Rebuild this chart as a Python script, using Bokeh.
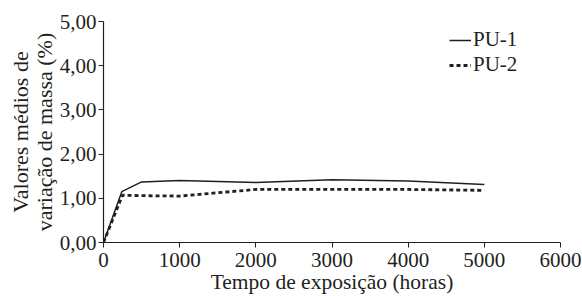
from bokeh.plotting import figure
from bokeh.models import Range1d, FixedTicker, CustomJSTickFormatter, Legend, LegendItem
from bokeh.embed import file_html
from bokeh.resources import INLINE

hours_pu1 = [0, 240, 500, 1000, 2000, 3000, 4000, 5000]
mass_pu1 = [0.0, 1.15, 1.37, 1.40, 1.36, 1.42, 1.39, 1.31]
hours_pu2 = [0, 250, 500, 1000, 2000, 3000, 4000, 5000]
mass_pu2 = [0.0, 1.07, 1.06, 1.05, 1.20, 1.20, 1.20, 1.18]
x_ticks = [0, 1000, 2000, 3000, 4000, 5000, 6000]
y_ticks = [0, 1, 2, 3, 4, 5]
series_names = ["PU-1", "PU-2"]
x_title = "Tempo de exposição (horas)"
y_title = "Valores médios de\nvariação de massa (%)"

FONT = "Liberation Serif"
INK = "#231f20"

p = figure(width=582, height=296, output_backend="svg", toolbar_location=None,
           x_range=Range1d(0, 6000), y_range=Range1d(0, 5),
           min_border_left=103, min_border_right=22, min_border_top=21, min_border_bottom=53)
p.outline_line_color = None
p.xgrid.visible = False
p.ygrid.visible = False

r1 = p.line(hours_pu1, mass_pu1, line_color=INK, line_width=1.5)
r2 = p.line(hours_pu2, mass_pu2, line_color=INK, line_width=2.8, line_dash="4 3")

for ax in (p.xaxis[0], p.yaxis[0]):
    ax.axis_line_color = INK
    ax.axis_line_width = 1.2
    ax.major_tick_line_color = INK
    ax.major_tick_out = 5
    ax.major_tick_in = 0
    ax.minor_tick_line_color = None
    ax.major_label_text_font = FONT
    ax.major_label_text_font_size = "21px"
    ax.major_label_text_color = INK
    ax.axis_label_text_font = FONT
    ax.axis_label_text_font_style = "normal"
    ax.axis_label_text_color = INK

p.xaxis[0].ticker = FixedTicker(ticks=x_ticks)
p.yaxis[0].ticker = FixedTicker(ticks=y_ticks)
p.yaxis[0].formatter = CustomJSTickFormatter(code="return tick.toFixed(2).replace('.', ',');")
p.xaxis[0].axis_label = x_title
p.xaxis[0].axis_label_text_font_size = "21.5px"
p.xaxis[0].axis_label_standoff = 0
p.xaxis[0].major_label_standoff = 5
p.yaxis[0].axis_label = y_title
p.yaxis[0].axis_label_text_font_size = "22px"
p.yaxis[0].axis_label_text_line_height = 0.95
p.yaxis[0].axis_label_standoff = 0
p.yaxis[0].major_label_standoff = 2

legend = Legend(items=[LegendItem(label=series_names[0], renderers=[r1]),
                       LegendItem(label=series_names[1], renderers=[r2])])
legend.background_fill_alpha = 0
legend.border_line_color = None
legend.label_text_font = FONT
legend.label_text_font_size = "21px"
legend.label_text_color = INK
legend.glyph_width = 22
legend.label_standoff = 2
legend.spacing = 0
legend.label_height = 20
legend.glyph_height = 20
legend.padding = 0
legend.margin = 0
legend.location = (346, 165)
p.add_layout(legend)

open("out.html", "w").write(file_html(p, INLINE))
